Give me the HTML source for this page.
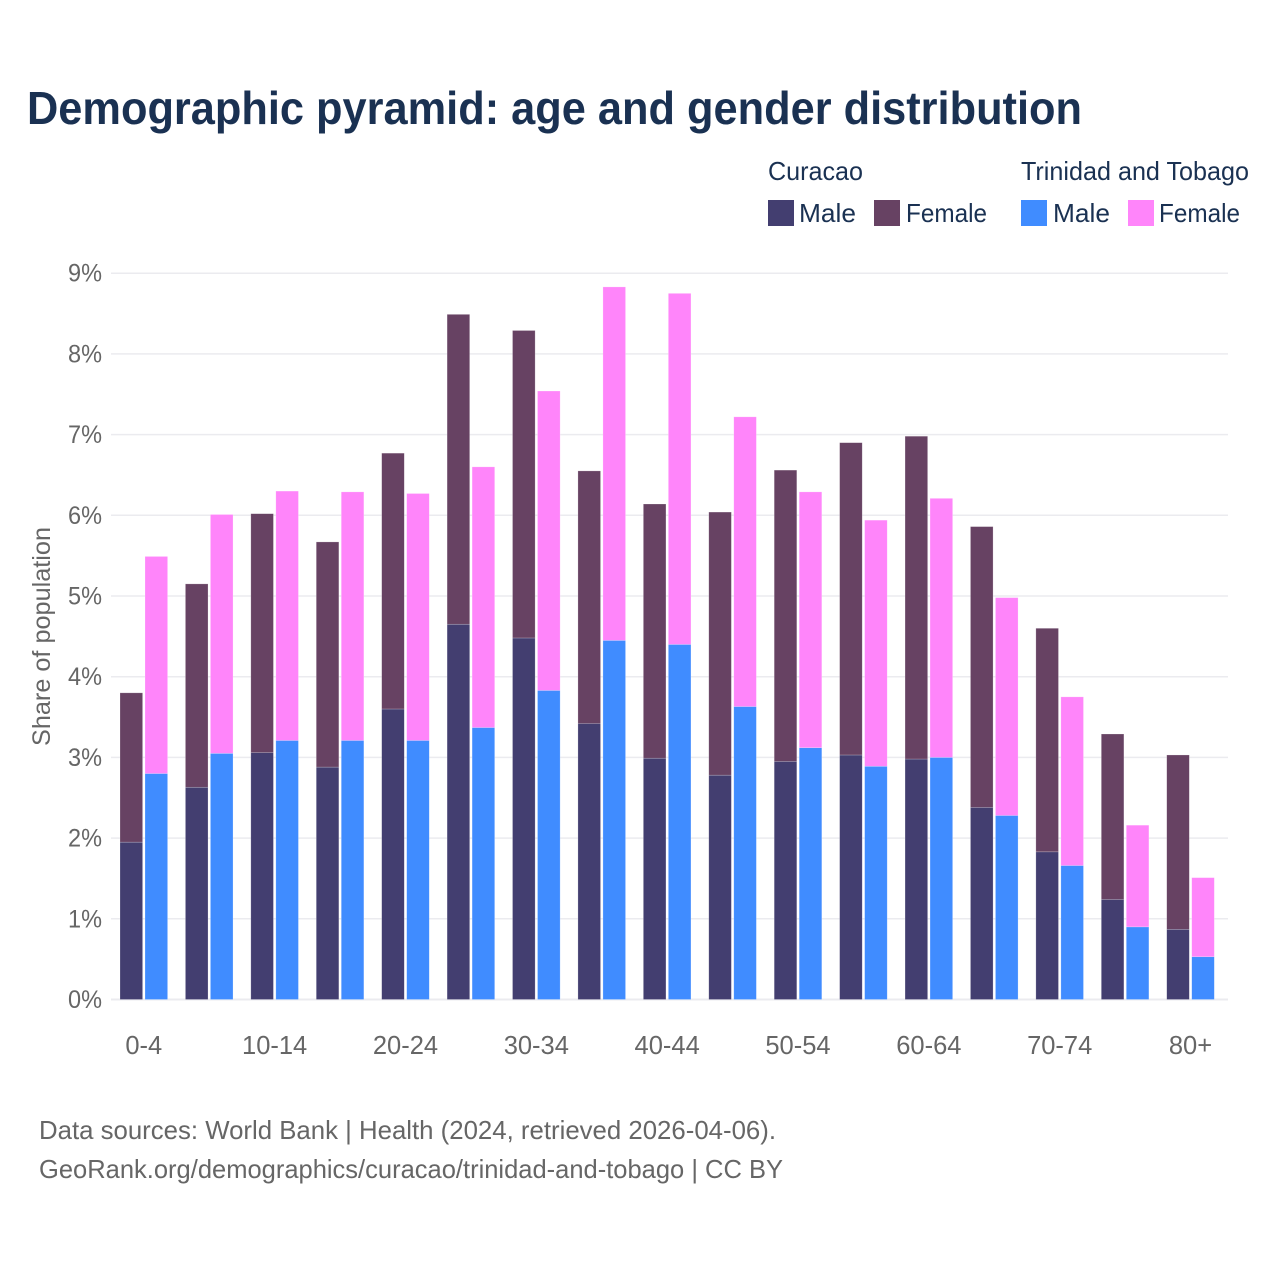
<!DOCTYPE html>
<html lang="en">
<head>
<meta charset="utf-8">
<title>Demographic pyramid: age and gender distribution</title>
<style>
html,body{margin:0;padding:0;background:#fff;width:1280px;height:1280px;overflow:hidden}
svg{display:block;font-family:"Liberation Sans",sans-serif}
</style>
</head>
<body>
<svg id="chart" xmlns="http://www.w3.org/2000/svg" width="1280" height="1280" viewBox="0 0 1280 1280">
  <rect width="1280" height="1280" fill="#fff"/>
  <text x="27" y="124" font-size="46" font-weight="700" fill="#1a3152" textLength="1055" lengthAdjust="spacingAndGlyphs">Demographic pyramid: age and gender distribution</text>

  <g font-size="26" fill="#1a3152">
    <text x="768" y="180" textLength="95" lengthAdjust="spacingAndGlyphs">Curacao</text>
    <text x="1021" y="180" textLength="228" lengthAdjust="spacingAndGlyphs">Trinidad and Tobago</text>
    <rect x="768" y="200" width="26" height="26" fill="#433e70"/>
    <text x="799" y="222" textLength="57" lengthAdjust="spacingAndGlyphs">Male</text>
    <rect x="874" y="200" width="26" height="26" fill="#674263"/>
    <text x="906" y="222" textLength="81" lengthAdjust="spacingAndGlyphs">Female</text>
    <rect x="1021" y="200" width="26" height="26" fill="#408cff"/>
    <text x="1053" y="222" textLength="57" lengthAdjust="spacingAndGlyphs">Male</text>
    <rect x="1128" y="200" width="26" height="26" fill="#ff85fa"/>
    <text x="1159" y="222" textLength="81" lengthAdjust="spacingAndGlyphs">Female</text>
  </g>

  <g id="grid"></g>
  <g id="yticks" font-size="25" fill="#666" text-anchor="end"></g>
  <g id="bars"></g>
  <g id="xticks" font-size="25.5" fill="#666" text-anchor="middle"></g>

  <text transform="translate(50,746) rotate(-90)" font-size="25" fill="#666" textLength="219" lengthAdjust="spacingAndGlyphs">Share of population</text>

  <g font-size="26" fill="#666">
    <text x="39" y="1139" textLength="737" lengthAdjust="spacingAndGlyphs">Data sources: World Bank | Health (2024, retrieved 2026-04-06).</text>
    <text x="39" y="1178" textLength="744" lengthAdjust="spacingAndGlyphs">GeoRank.org/demographics/curacao/trinidad-and-tobago | CC BY</text>
  </g>
</svg>
<script>
const ageGroups = ["0-4","5-9","10-14","15-19","20-24","25-29","30-34","35-39","40-44","45-49","50-54","55-59","60-64","65-69","70-74","75-79","80+"];
const xTickLabels = ["0-4","10-14","20-24","30-34","40-44","50-54","60-64","70-74","80+"];
const yTickValues = [0,1,2,3,4,5,6,7,8,9];
const curacaoMale = [1.95,2.63,3.06,2.88,3.60,4.65,4.48,3.42,2.99,2.78,2.95,3.03,2.98,2.38,1.83,1.24,0.87];
const curacaoFemale = [1.85,2.52,2.96,2.79,3.17,3.84,3.81,3.13,3.15,3.26,3.61,3.87,4.00,3.48,2.77,2.05,2.16];
const trinidadMale = [2.80,3.05,3.21,3.21,3.21,3.37,3.83,4.45,4.40,3.63,3.12,2.89,3.00,2.28,1.66,0.90,0.53];
const trinidadFemale = [2.69,2.96,3.09,3.08,3.06,3.23,3.71,4.38,4.35,3.59,3.17,3.05,3.21,2.70,2.09,1.26,0.98];

const NS = "http://www.w3.org/2000/svg";
const y0 = 999.5, pxPerPct = 80.7;
const bandStart = 120, bandStep = 65.42, barW = 22.6, barOffset = 25;
const yScale = v => y0 - v * pxPerPct;
const xScale = i => bandStart + i * bandStep;

function make(tag, parent, attrs) {
  const el = document.createElementNS(NS, tag);
  for (const k in attrs) el.setAttribute(k, attrs[k]);
  parent.appendChild(el);
  return el;
}

const grid = document.getElementById("grid");
const yticks = document.getElementById("yticks");
yTickValues.forEach(v => {
  const line = make("line", grid, {x1: 111, x2: 1228, y1: yScale(v), y2: yScale(v), stroke: "#ebebef", "stroke-width": v === 0 ? 2 : 1.5});
  
  
  const t = make("text", yticks, {x: 102, y: yScale(v) + 8.5, textLength: 34, lengthAdjust: "spacingAndGlyphs"});
  
  
  t.textContent = v + "%";
});

const bars = document.getElementById("bars");
function drawBar(x, base, value, fill) {
  const top = yScale(base + value);
  const r = make("rect", bars, {x: x, y: top, width: barW, height: yScale(base) - top, fill: fill, stroke: "#fff", "stroke-opacity": 0.35, "stroke-width": 0.6});
  
  
}
ageGroups.forEach((g, i) => {
  const x = xScale(i);
  drawBar(x, 0, curacaoMale[i], "#433e70");
  drawBar(x, curacaoMale[i], curacaoFemale[i], "#674263");
  drawBar(x + barOffset, 0, trinidadMale[i], "#408cff");
  drawBar(x + barOffset, trinidadMale[i], trinidadFemale[i], "#ff85fa");
});

const xticks = document.getElementById("xticks");
xTickLabels.forEach(label => {
  const i = ageGroups.indexOf(label);
  const t = make("text", xticks, {x: xScale(i) + (barOffset + barW) / 2, y: 1054});
  
  
  t.textContent = label;
});
</script>
</body>
</html>
